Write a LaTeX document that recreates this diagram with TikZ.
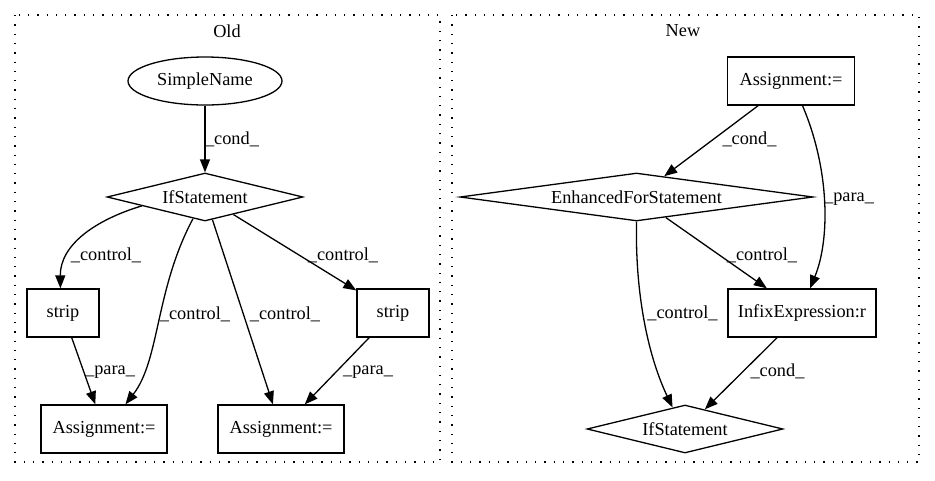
\documentclass[tikz,border=0pt]{standalone}
\usepackage{fontspec}
\setmainfont{Liberation Serif}
\usetikzlibrary{shapes.geometric,arrows.meta}
\begin{document}
\begin{tikzpicture}[x=1pt,y=-1pt,
  font=\fontsize{18.3}{22}\selectfont,
  every node/.style={inner sep=0pt},
  box/.style={draw,line width=1.3pt,rectangle,minimum height=48pt},
  dia/.style={draw,line width=1.3pt,diamond,minimum height=48pt},
  ell/.style={draw,line width=1.3pt,ellipse,minimum width=154pt,minimum height=48pt},
  edge/.style={line width=1.3pt,-{Triangle[length=13pt,width=10pt]}},
  cluster/.style={line width=1.3pt,dash pattern=on 1.3pt off 8pt},
  lbl/.style={inner sep=0pt}]
\useasboundingbox (0,0) rectangle (935,480);
% clusters
\draw[cluster] (15,15) rectangle (440,462);
\draw[cluster] (452,15) rectangle (919,462);
\node (told) at (227,31) {Old};
\node (tnew) at (683,31) {New};
% Old nodes
\node[ell] (sn) at (205,81) {SimpleName};
\node[dia,minimum width=196pt,aspect=4] (if1) at (205,197) {IfStatement};
\node[box,minimum width=72pt] (s1) at (63,313) {strip};
\node[box,minimum width=72pt] (s2) at (393,313) {strip};
\node[box,minimum width=126pt] (a1) at (104,429) {Assignment:=};
\node[box,minimum width=126pt] (a2) at (281,429) {Assignment:=};
% New nodes
\node[box,minimum width=127pt] (an) at (791,81) {Assignment:=};
\node[dia,minimum width=353pt,aspect=7.35] (efs) at (636.5,197) {EnhancedForStatement};
\node[box,minimum width=148pt] (inf) at (802,313) {InfixExpression:r};
\node[dia,minimum width=196pt,aspect=4] (if2) at (685,429) {IfStatement};
% Old edges
\draw[edge] (sn) -- (if1);
\node[lbl] (l1) at (232,139) {\_cond\_};
\draw[edge] (if1.188) .. controls (95,220) and (60,245) .. (s1.96);
\node[lbl] (l2) at (106,255) {\_control\_};
\draw[edge] (if1.241) .. controls (155,290) and (160,360) .. (a1.49);
\node[lbl] (l3) at (195,314) {\_control\_};
\draw[edge] (if1) -- (a2);
\node[lbl] (l4) at (285,314) {\_control\_};
\draw[edge] (if1) -- (s2);
\node[lbl] (l5) at (343,255) {\_control\_};
\draw[edge] (s1) -- (a1);
\node[lbl] (l6) at (110,372) {\_para\_};
\draw[edge] (s2) -- (a2);
\node[lbl] (l7) at (368,372) {\_para\_};
% New edges
\draw[edge] (an) -- (efs);
\node[lbl] (l8) at (749.5,139) {\_cond\_};
\draw[edge] (an.-65) .. controls (830,170) and (830,240) .. (inf.72);
\node[lbl] (l9) at (849,199) {\_para\_};
\draw[edge] (efs) -- (inf);
\node[lbl] (l10) at (762,255) {\_control\_};
\draw[edge] (efs.south) .. controls (635,300) and (650,360) .. (if2.120);
\node[lbl] (l11) at (682.5,313) {\_control\_};
\draw[edge] (inf) -- (if2);
\node[lbl] (l12) at (777.5,371) {\_cond\_};
\end{tikzpicture}
\end{document}
